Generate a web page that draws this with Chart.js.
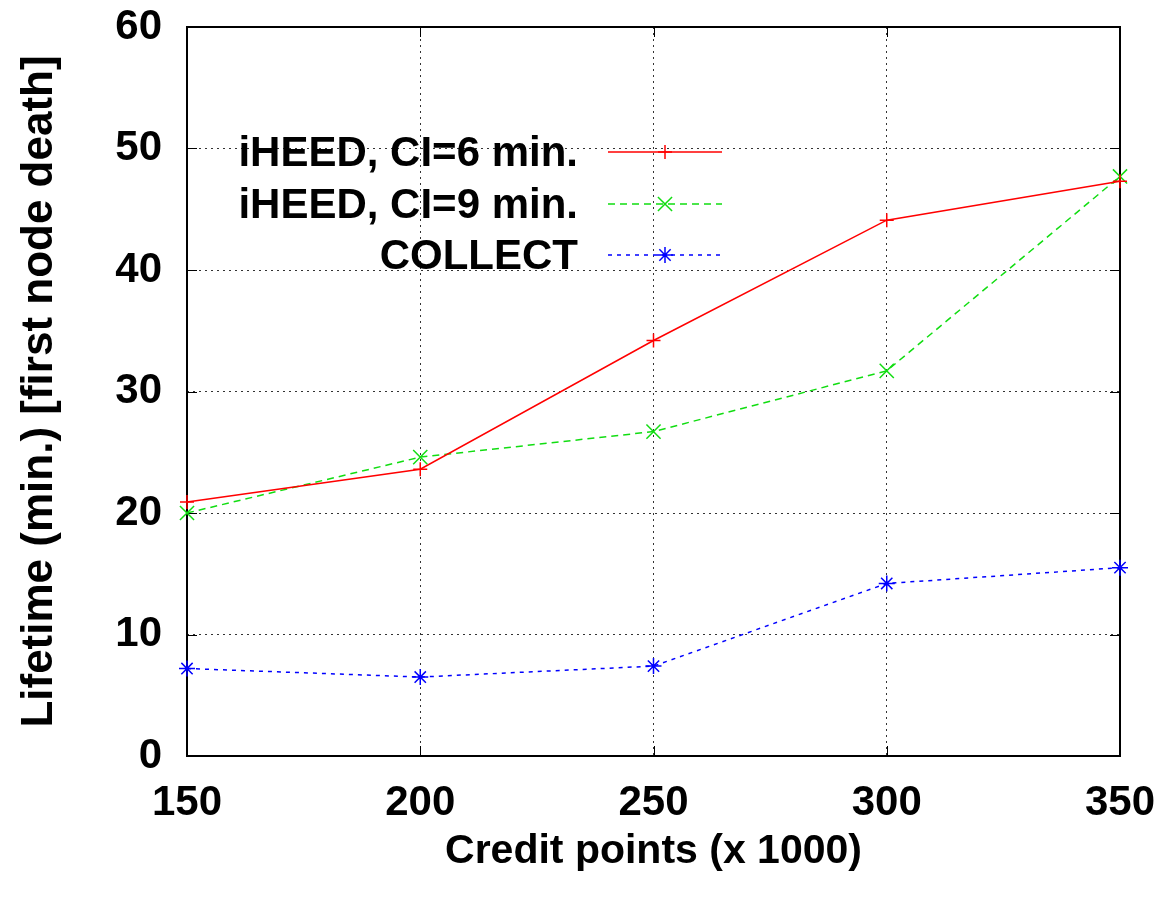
<!DOCTYPE html>
<html lang="en">
  <head>
    <meta charset="UTF-8" />
    <title>Lifetime vs credit points</title>
    <script src="https://cdn.jsdelivr.net/npm/chart.js"></script>
    <style>
      html, body {
        margin: 0;
        padding: 0;
        background: #fff;
      }
      #wrap {
        width: 1165px;
        height: 898px;
      }
    </style>
  </head>
  <body>
    <div id="wrap"><canvas id="lifetimeChart"></canvas></div>
    <script>
      // data
      const creditPoints = [150, 200, 250, 300, 350];
      const iheed6 = [20.9, 23.6, 34.2, 44.1, 47.3];
      const iheed9 = [20.0, 24.6, 26.7, 31.7, 47.7];
      const collect = [7.2, 6.5, 7.4, 14.2, 15.5];
      const seriesNames = ["iHEED, CI=6 min.", "iHEED, CI=9 min.", "COLLECT"];
      const yTicks = [0, 10, 20, 30, 40, 50, 60];

      const font = "'Liberation Sans', Arial, sans-serif";

      function toPoints(vals) {
        return vals.map((v, i) => ({ x: creditPoints[i], y: v }));
      }

      function drawMarker(ctx, style, x, y, r) {
        ctx.beginPath();
        if (style === "cross" || style === "star") {
          ctx.moveTo(x - r, y);
          ctx.lineTo(x + r, y);
          ctx.moveTo(x, y - r);
          ctx.lineTo(x, y + r);
        }
        if (style === "crossRot" || style === "star") {
          const d = r * Math.SQRT1_2;
          ctx.moveTo(x - d, y - d);
          ctx.lineTo(x + d, y + d);
          ctx.moveTo(x - d, y + d);
          ctx.lineTo(x + d, y - d);
        }
        ctx.stroke();
      }

      // frame + inward ticks + legend, gnuplot style
      const framePlugin = {
        id: "frame",
        beforeDatasetsDraw(chart) {
          const { ctx, chartArea: a, scales } = chart;
          ctx.save();
          ctx.strokeStyle = "#000";
          ctx.lineWidth = 1;
          ctx.beginPath();
          yTicks.forEach((t) => {
            const py = Math.round(scales.y.getPixelForValue(t)) + 0.5;
            ctx.moveTo(a.left, py);
            ctx.lineTo(a.left + 10, py);
            ctx.moveTo(a.right, py);
            ctx.lineTo(a.right - 10, py);
          });
          creditPoints.forEach((t) => {
            const px = Math.round(scales.x.getPixelForValue(t)) + 0.5;
            ctx.moveTo(px, a.bottom);
            ctx.lineTo(px, a.bottom - 10);
            ctx.moveTo(px, a.top);
            ctx.lineTo(px, a.top + 10);
          });
          ctx.stroke();
          ctx.lineWidth = 2;
          ctx.strokeRect(a.left, a.top, a.right - a.left, a.bottom - a.top);
          ctx.restore();
        },
        afterDatasetsDraw(chart) {
          const { ctx } = chart;
          ctx.save();
          // legend
          const rows = [152, 204, 255];
          ctx.font = "bold 42px " + font;
          ctx.textAlign = "right";
          ctx.textBaseline = "middle";
          chart.data.datasets.forEach((ds, i) => {
            const y = rows[i];
            ctx.fillStyle = "#000";
            ctx.fillText(ds.label, 578, y + 2);
            ctx.strokeStyle = ds.borderColor;
            ctx.lineWidth = ds.borderWidth;
            ctx.setLineDash(ds.borderDash || []);
            ctx.beginPath();
            ctx.moveTo(608, y);
            ctx.lineTo(722, y);
            ctx.stroke();
            ctx.setLineDash([]);
            drawMarker(ctx, ds.pointStyle, 665, y, ds.pointRadius);
          });
          ctx.restore();
        },
      };

      const tickFont = { family: font, size: 42, weight: "bold" };

      new Chart(document.getElementById("lifetimeChart"), {
        type: "line",
        data: {
          datasets: [
            {
              label: seriesNames[0],
              data: toPoints(iheed6),
              borderColor: "#ff0000",
              borderWidth: 1.5,
              pointStyle: "cross",
              pointRadius: 7,
              pointBorderColor: "#ff0000",
              pointBorderWidth: 1.5,
              clip: false,
            },
            {
              label: seriesNames[1],
              data: toPoints(iheed9),
              borderColor: "#11dd11",
              borderWidth: 1.5,
              borderDash: [7, 5],
              pointStyle: "crossRot",
              pointRadius: 10,
              pointBorderColor: "#11dd11",
              pointBorderWidth: 1.5,
              clip: false,
            },
            {
              label: seriesNames[2],
              data: toPoints(collect),
              borderColor: "#0000ff",
              borderWidth: 1.5,
              borderDash: [4, 5],
              pointStyle: "star",
              pointRadius: 8,
              pointBorderColor: "#0000ff",
              pointBorderWidth: 1.5,
              clip: false,
            },
          ],
        },
        options: {
          responsive: true,
          maintainAspectRatio: false,
          animation: false,
          layout: { padding: { top: 27, right: 45, left: 0, bottom: 0 } },
          plugins: {
            legend: { display: false },
            tooltip: { enabled: false },
          },
          scales: {
            x: {
              type: "linear",
              min: 150,
              max: 350,
              afterFit: (s) => {
                s.height = 142;
                s.paddingLeft = 0;
                s.paddingRight = 0;
              },
              afterBuildTicks: (s) => {
                s.ticks = creditPoints.map((v) => ({ value: v }));
              },
              border: { display: false, dash: [2, 4] },
              grid: {
                color: "#333",
                lineWidth: 1,
                drawTicks: false,
              },
              ticks: {
                color: "#000",
                font: tickFont,
                padding: 22,
                maxRotation: 0,
              },
              title: {
                display: true,
                text: "Credit points (x 1000)",
                color: "#000",
                font: { family: font, size: 41, weight: "bold" },
                padding: { top: 0, bottom: 22 },
              },
            },
            y: {
              min: 0,
              max: 60,
              afterFit: (s) => {
                s.width = 187;
                s.paddingTop = 0;
                s.paddingBottom = 0;
              },
              afterBuildTicks: (s) => {
                s.ticks = yTicks.map((v) => ({ value: v }));
              },
              border: { display: false, dash: [2, 4] },
              grid: {
                color: "#333",
                lineWidth: 1,
                drawTicks: false,
              },
              ticks: {
                color: "#000",
                font: tickFont,
                padding: 25,
              },
              title: {
                display: true,
                text: "Lifetime (min.) [first node death]",
                color: "#000",
                font: { family: font, size: 44, weight: "bold" },
                padding: { top: 13, bottom: 0 },
              },
            },
          },
        },
        plugins: [framePlugin],
      });
    </script>
  </body>
</html>
